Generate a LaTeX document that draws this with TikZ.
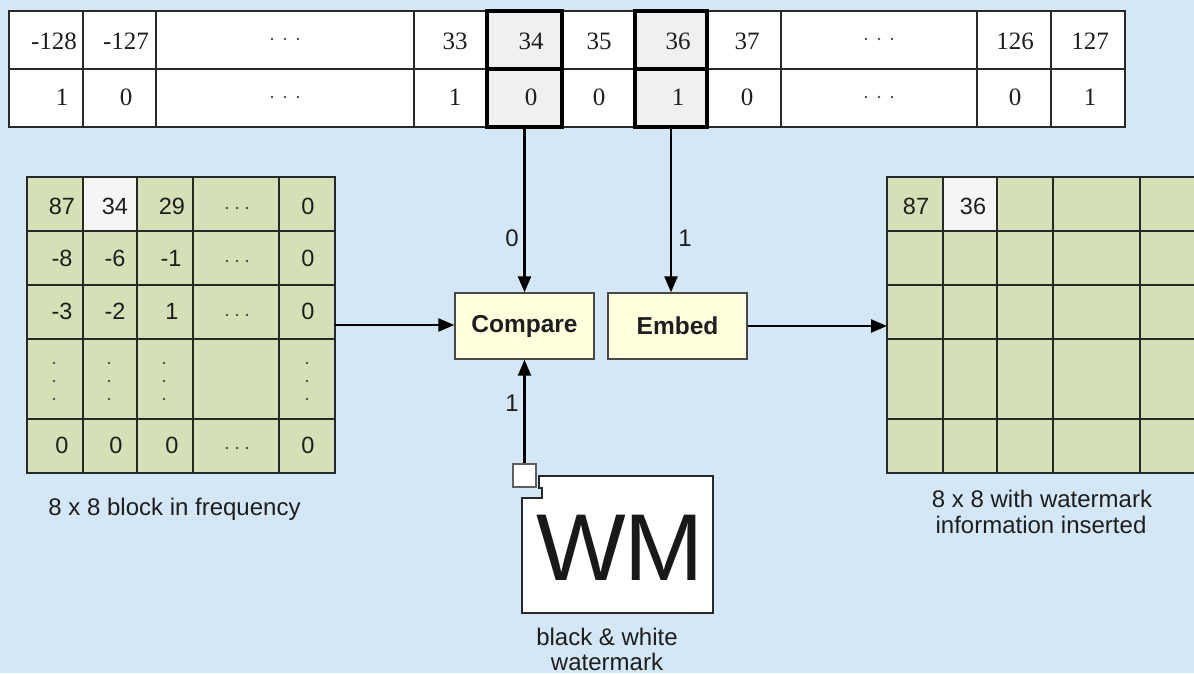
\documentclass[tikz,border=0pt]{standalone}
\usepackage{fontspec}
\setmainfont{Liberation Sans}
\newfontfamily\seriffont{Liberation Serif}
\usetikzlibrary{arrows.meta}
\definecolor{bg}{RGB}{212,231,246}
\definecolor{cellgreen}{RGB}{214,224,182}
\definecolor{boxyellow}{RGB}{255,255,222}
\definecolor{hlgray}{RGB}{240,240,240}
\definecolor{cellwhite}{RGB}{245,245,245}
\definecolor{linec}{RGB}{40,40,40}
\definecolor{txt}{RGB}{30,30,30}
\tikzset{
  tcell/.style={font=\seriffont\fontsize{25}{30}\selectfont, text=txt, inner sep=0},
  gnum/.style={font=\fontsize{23.5}{28}\selectfont, text=txt, inner sep=0},
  proc/.style={draw=linec!85, fill=boxyellow, line width=1.4, text=txt,
    font=\bfseries\fontsize{24.5}{29}\selectfont, minimum width=139, minimum height=66, inner sep=0},
  arr/.style={draw=black, line width=2.4, -{Triangle[length=16pt,width=13pt]}},
  lbl/.style={font=\fontsize{24}{29}\selectfont, text=txt, inner sep=0},
  captext/.style={font=\fontsize{24}{29}\selectfont, text=txt, inner sep=0, anchor=base},
  gridline/.style={draw=linec, line width=1.7},
  hlcell/.style={draw=black, line width=3.5, inner sep=0, minimum height=58},
  dotmark/.style={fill=txt!80},
}
\begin{document}
\begin{tikzpicture}[x=1pt,y=-1pt]
\fill[bg] (0,0) rectangle (1194,673);
\useasboundingbox (0,0) rectangle (1194,673);

% ---------- top table ----------
\fill[white] (9,11) rectangle (1125,127);
\fill[hlgray] (487,11) rectangle (562,127);
\fill[hlgray] (635,11) rectangle (707,127);
\draw[gridline] (9,11) rectangle (1125,127);
\draw[gridline] (9,69) -- (1125,69);
\foreach \x in {83,156,414,487,562,635,707,781,977,1051}
  \draw[gridline] (\x,11) -- (\x,127);
\node[hlcell, minimum width=75] (k34a) at (524.5,40) {};
\node[hlcell, minimum width=75] (k34b) at (524.5,98) {};
\node[hlcell, minimum width=72] (k36a) at (671,40) {};
\node[hlcell, minimum width=72] (k36b) at (671,98) {};
\foreach \x/\t [count=\i] in {54/-128,126/-127,455/33,531/34,599/35,678/36,747/37,1015/126,1090/127}
  \node[tcell] (ta\i) at (\x,41.5) {\t};
\foreach \x/\t [count=\i] in {62/1,126/0,455/1,531/0,599/0,678/1,747/0,1015/0,1090/1}
  \node[tcell] (tb\i) at (\x,97) {\t};
\foreach \cx in {285,879}
  \foreach \cy in {39,97}
    \foreach \d in {-13,0,13}
      \fill[dotmark] (\cx+\d,\cy) circle (1.3);

% ---------- left grid ----------
\fill[cellgreen] (27,177) rectangle (335,473);
\fill[cellwhite] (83,177) rectangle (137,231);
\foreach \x in {83,137,193,279} \draw[gridline] (\x,177) -- (\x,473);
\foreach \y in {231,285,339,419} \draw[gridline] (27,\y) -- (335,\y);
\draw[gridline] (27,177) rectangle (335,473);
\node[inner sep=0, minimum width=308, minimum height=296] (lgrid) at (181,325) {};
\foreach \x/\t [count=\i] in {62/87,115/34,172/29,308/0}
  \node[gnum] (la\i) at (\x,206) {\t};
\foreach \x/\t [count=\i] in {62/-8,115/-6,171/-1,308/0}
  \node[gnum] (lb\i) at (\x,258) {\t};
\foreach \x/\t [count=\i] in {62/-3,115/-2,172/1,308/0}
  \node[gnum] (lc\i) at (\x,311) {\t};
\foreach \x/\t [count=\i] in {62/0,116/0,172/0,308/0}
  \node[gnum] (ld\i) at (\x,445) {\t};
\foreach \cy in {208,261,315,448}
  \foreach \d in {-10,0,10}
    \fill[dotmark] (237+\d,\cy) circle (1.3);
\foreach \cx in {54,109,164,307}
  \foreach \cy in {363,381,399}
    \fill[dotmark] (\cx,\cy) circle (1.3);
\node[captext] (capl) at (174.5,515) {8 x 8 block in frequency};

% ---------- right grid ----------
\begin{scope}
\clip (0,0) rectangle (1194,673);
\fill[cellgreen] (887,177) rectangle (1197,473);
\fill[cellwhite] (943,177) rectangle (997,231);
\foreach \x in {943,997,1053,1140} \draw[gridline] (\x,177) -- (\x,473);
\foreach \y in {231,285,339,419} \draw[gridline] (887,\y) -- (1197,\y);
\draw[gridline] (1197,177) -- (887,177) -- (887,473) -- (1197,473);
\end{scope}
\node[inner sep=0, minimum width=2, minimum height=296, anchor=west] (rgrid) at (887,325) {};
\node[gnum] (ra1) at (916,206) {87};
\node[gnum] (ra2) at (973,206) {36};
\node[captext] (capr1) at (1042,507) {8 x 8 with watermark};
\node[captext] (capr2) at (1041,533) {information inserted};

% ---------- process boxes ----------
\node[proc] (cmp) at (524.5,326) {Compare};
\node[proc] (emb) at (677.5,326) {Embed};

% ---------- watermark ----------
\node[draw=linec!75, fill=white, line width=1.4, minimum size=23, inner sep=0] (wmsq) at (524.5,475.5) {};
\node[inner sep=0, minimum width=191, minimum height=137] (wmbox) at (617.5,544.5) {};
\draw[draw=linec, fill=white, line width=1.5]
  ([xshift=17]wmbox.north west) -- (wmbox.north east) -- (wmbox.south east)
  -- (wmbox.south west) -- ([yshift=-22]wmbox.north west)
  -- ([xshift=20,yshift=-22]wmbox.north west) -- ([xshift=20,yshift=-12]wmbox.north west)
  -- ([xshift=17,yshift=-12]wmbox.north west) -- cycle;
\node[inner sep=0, text=black!90, font=\fontsize{95}{100}\selectfont] (wmt) at (620,548) {W\kern-2pt M};
\node[captext] (capw1) at (607,645) {black \& white};
\node[captext] (capw2) at (607,670) {watermark};

% ---------- connectors ----------
\draw[arr] (k34b.south) -- (k34b.south |- cmp.north);
\draw[arr] (k36b.south) -- (k36b.south |- emb.north);
\draw[arr] (lgrid.east) -- (lgrid.east -| cmp.west);
\draw[arr] (emb.east) -- (emb.east -| rgrid.west);
\draw[arr] (wmsq.north) -- (wmsq.north |- cmp.south);
\node[lbl] (l0) at (512,238) {0};
\node[lbl] (l1) at (685,238) {1};
\node[lbl] (l2) at (512,403) {1};
\end{tikzpicture}
\end{document}
